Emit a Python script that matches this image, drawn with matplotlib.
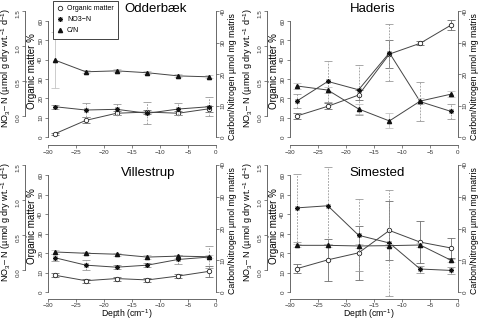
import matplotlib
matplotlib.use("Agg")
import matplotlib.pyplot as plt
from matplotlib.lines import Line2D

plt.rcParams["font.family"] = ["Liberation Sans", "DejaVu Sans"]
plt.rcParams["mathtext.fontset"] = "custom"
plt.rcParams["mathtext.rm"] = "Liberation Sans"
plt.rcParams["mathtext.it"] = "Liberation Sans:italic"
plt.rcParams["mathtext.default"] = "regular"

# ---------------------------------------------------------------------------
# data
# ---------------------------------------------------------------------------
depth = [-28.75, -23.25, -17.75, -12.25, -6.75, -1.25]
sites = ["Odderbæk", "Haderis", "Villestrup", "Simested"]

om_odderbaek = [1.7, 8.6, 12.3, 12.9, 12.3, 14.6]
om_err_odderbaek = [0.5, 1.5, 1.0, 1.0, 1.0, 1.5]
no3_odderbaek = [0.127, 0.08, 0.09, 0.033, 0.094, 0.127]
no3_err_odderbaek = [0.03, 0.095, 0.08, 0.16, 0.085, 0.14]
cn_odderbaek = [24.4, 20.7, 21.0, 20.4, 19.4, 19.1]
cn_err_odderbaek = [8.8, 0.5, 0.5, 0.5, 0.5, 0.5]

om_haderis = [10.9, 15.9, 21.7, 42.9, 48.5, 57.9]
om_err_haderis = [1.5, 1.5, 2.6, 7.4, 1.0, 2.6]
no3_haderis = [0.21, 0.49, 0.37, 0.90, 0.20, 0.06]
no3_err_haderis = [0.10, 0.30, 0.36, 0.41, 0.28, 0.11]
cn_haderis = [16.2, 14.9, 8.9, 5.1, 11.4, 13.6]
cn_err_haderis = [1.0, 1.0, 1.5, 2.4, 1.0, 1.0]

om_villestrup = [8.6, 5.8, 6.9, 6.2, 8.2, 10.6]
om_err_villestrup = [1.0, 1.0, 1.0, 1.0, 1.0, 2.7]
no3_villestrup = [0.18, 0.075, 0.046, 0.075, 0.156, 0.19]
no3_err_villestrup = [0.05, 0.07, 0.03, 0.03, 0.07, 0.155]
cn_villestrup = [12.6, 12.2, 11.9, 11.0, 11.3, 11.1]
cn_err_villestrup = [0.5, 0.5, 0.5, 0.5, 0.5, 0.5]

om_simested = [12.0, 16.5, 20.1, 31.6, 25.6, 22.6]
om_err_simested = [2.5, 10.6, 13.7, 15.2, 10.9, 5.1]
no3_simested = [0.89, 0.92, 0.50, 0.39, 0.02, 0.0]
no3_err_simested = [0.48, 0.55, 0.51, 0.76, 0.05, 0.05]
cn_simested = [14.7, 14.7, 14.5, 14.6, 14.8, 10.0]
cn_err_simested = [0.5, 0.5, 0.5, 0.5, 0.5, 0.5]

# ---------------------------------------------------------------------------
# style / layout
# ---------------------------------------------------------------------------
W, H = 483, 322
PX = 72 / 100          # points per pixel at dpi 100

LINE = "#444444"
ERR_OM = "#6e6e6e"
ERR_NO3 = "#9a9a9a"
ERR_CN = "#c4c4c4"
AXC = "#505050"


def px_box(x0, y0, x1, y1):
    return [x0 / W, 1 - y1 / H, (x1 - x0) / W, (y1 - y0) / H]


BOXES = [px_box(48, 11, 216, 137), px_box(290, 11, 458, 137),
         px_box(48, 165, 216, 292), px_box(290, 165, 458, 292)]
TITLE_POS = [(0.64, 1.015), (0.49, 1.015), (0.595, 0.94), (0.52, 0.94)]


def style_y(ax, side, ticks, labels, lo, hi):
    for s in ax.spines.values():
        s.set_visible(False)
    sp = ax.spines[side]
    sp.set_visible(True)
    sp.set_bounds(lo, hi)
    sp.set_color(AXC)
    sp.set_linewidth(0.6)
    ax.set_yticks(ticks)
    ax.set_yticklabels(labels)
    ax.tick_params(axis="y", which="both", direction="out", length=2.2, width=0.5,
                   color=AXC, labelsize=4.5, pad=1.2, labelrotation=90,
                   left=(side == "left"), labelleft=(side == "left"),
                   right=(side == "right"), labelright=(side == "right"),
                   labelcolor="#333333")
    for t in ax.get_yticklabels():
        t.set_verticalalignment("center")


def place_label(axis, x, y):
    axis.set_label_coords(x, y)
    axis.label.set_verticalalignment("center")
    axis.label.set_horizontalalignment("center")


def errbars(ax, x, y, e, color, ls, z):
    eb = ax.errorbar(x, y, yerr=e, fmt="none", ecolor=color, elinewidth=0.6,
                     capsize=2.6, capthick=0.6, zorder=z)
    for c in eb[2]:
        c.set_linestyle(ls)
        c.set_clip_on(False)
    for c in eb[1]:
        c.set_clip_on(False)


def draw_panel(i, om, om_err, no3, no3_err, cn, cn_err, legend=False, xlabel=False):
    ax = fig.add_axes(BOXES[i])
    ax.patch.set_alpha(0)
    ax.set_xlim(-30, 0)
    ax.set_ylim(0, 65.2)
    style_y(ax, "left", range(0, 61, 10), [str(v) for v in range(0, 61, 10)], 0, 60)
    ax.spines["bottom"].set_visible(True)
    ax.spines["bottom"].set_position(("outward", (7 if xlabel else 8) * PX))
    ax.spines["bottom"].set_bounds(-30, 0)
    ax.spines["bottom"].set_color(AXC)
    ax.spines["bottom"].set_linewidth(0.6)
    ax.set_xticks(range(-30, 1, 5))
    ax.tick_params(axis="x", direction="out", length=2.2, width=0.5, color=AXC,
                   labelsize=4.5, pad=(0.5 if xlabel else 1.2), labelcolor="#333333")
    ax.set_ylabel("Organic matter %", fontsize=7)
    place_label(ax.yaxis, -0.095, 0.52)

    ax_no3 = ax.twinx()
    ax_no3.set_ylim(-0.307, 1.5)
    style_y(ax_no3, "left", [0, 0.5, 1.0, 1.5], ["0.0", "0.5", "1.0", "1.5"], 0, 1.5)
    ax_no3.spines["left"].set_position(("outward", 23 * PX))
    ax_no3.yaxis.set_label_position("left")
    ax_no3.set_ylabel("NO$_3$– N (µmol g dry wt.$^{-1}$ d$^{-1}$)", fontsize=6.5)
    place_label(ax_no3.yaxis, -0.252, 0.55)

    ax_cn = ax.twinx()
    ax_cn.set_ylim(0, 40)
    style_y(ax_cn, "right", range(0, 41, 10), [str(v) for v in range(0, 41, 10)], 0, 40)
    ax_cn.yaxis.set_label_position("right")
    ax_cn.set_ylabel("Carbon/Nitrogen µmol mg matris", fontsize=6.3, rotation=90)
    place_label(ax_cn.yaxis, 1.10, 0.48)

    # error bars
    errbars(ax, depth, om, om_err, ERR_OM, "-", 2)
    errbars(ax_cn, depth, cn, cn_err, ERR_CN, "-", 2)
    errbars(ax_no3, depth, no3, no3_err, ERR_NO3, (0, (2.2, 1.5)), 2)

    # series
    ax.plot(depth, om, color=LINE, lw=0.7, marker="o", ms=3.2, mfc="white",
            mec="#222222", mew=0.6, zorder=3, clip_on=False)
    ax_cn.plot(depth, cn, color=LINE, lw=0.7, marker="^", ms=3.0, mfc="#111111",
               mec="#111111", zorder=3, clip_on=False)
    ax_no3.plot(depth, no3, color=LINE, lw=0.7, marker=(8, 2, 0), ms=3.6,
                mec="#111111", mew=0.7, zorder=3, clip_on=False)

    ax.text(*TITLE_POS[i], sites[i], transform=ax.transAxes, ha="center",
            va="center", fontsize=9.5)

    if xlabel:
        ax.set_xlabel("Depth (cm$^{-1}$)", fontsize=6.2)
        place_label(ax.xaxis, 0.47, -0.176)

    if legend:
        handles = [
            Line2D([], [], ls="none", marker="o", ms=3.2, mfc="white", mec="#222222", mew=0.6),
            Line2D([], [], ls="none", marker=(8, 2, 0), ms=3.6, mec="#111111", mew=0.7),
            Line2D([], [], ls="none", marker="^", ms=3.0, mfc="#111111", mec="#111111"),
        ]
        leg = ax_cn.legend(handles, ["Organic matter", "NO3\u2212N", "C/N"],
                           loc="upper left", bbox_to_anchor=(0.03, 1.08),
                           fontsize=5.0, frameon=True, fancybox=False,
                           framealpha=1, edgecolor="#222222", handlelength=0.9,
                           handletextpad=0.5, borderpad=0.6, labelspacing=0.6,
                           borderaxespad=0)
        leg.get_frame().set_linewidth(0.6)
        leg.set_zorder(10)


fig = plt.figure(figsize=(W / 100, H / 100), dpi=100)

draw_panel(0, om_odderbaek, om_err_odderbaek, no3_odderbaek, no3_err_odderbaek,
           cn_odderbaek, cn_err_odderbaek, legend=True)
draw_panel(1, om_haderis, om_err_haderis, no3_haderis, no3_err_haderis,
           cn_haderis, cn_err_haderis)
draw_panel(2, om_villestrup, om_err_villestrup, no3_villestrup, no3_err_villestrup,
           cn_villestrup, cn_err_villestrup, xlabel=True)
draw_panel(3, om_simested, om_err_simested, no3_simested, no3_err_simested,
           cn_simested, cn_err_simested, xlabel=True)

fig.savefig("out.png", dpi=100)
